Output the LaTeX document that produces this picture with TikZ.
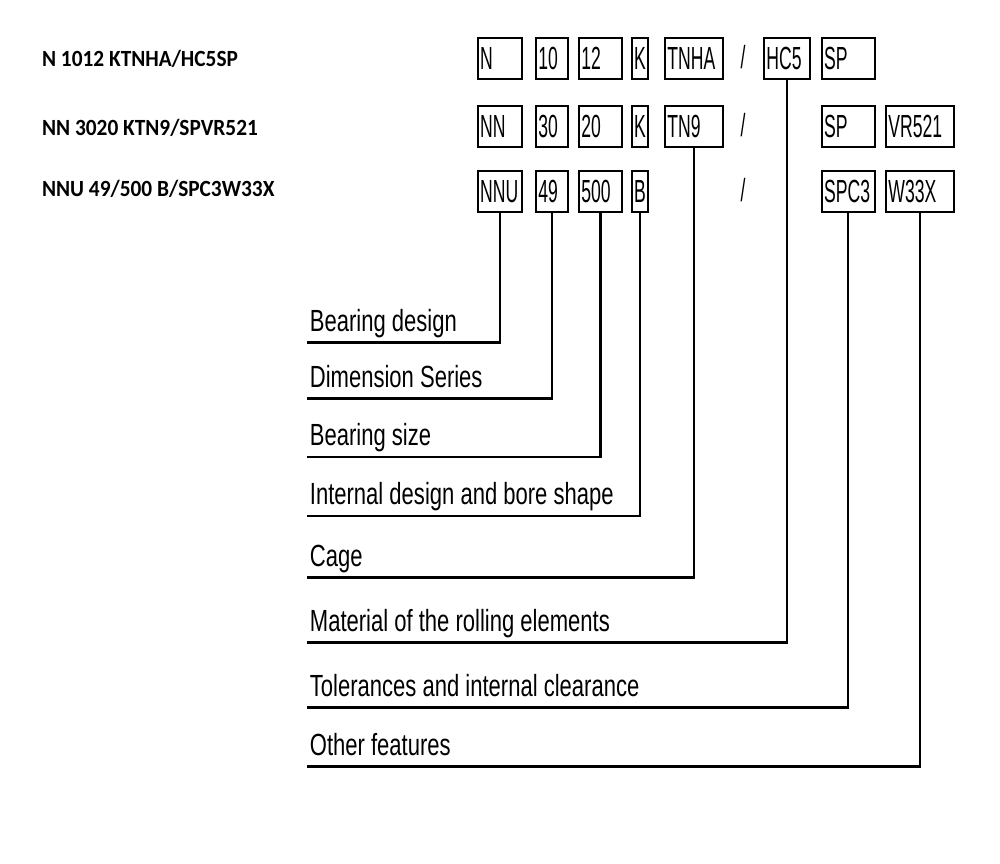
\documentclass[tikz,border=0pt]{standalone}
\usepackage{fontspec}
\setmainfont{Liberation Sans}
\newfontfamily\codefont[FakeStretch=0.92]{Carlito}
\newfontfamily\cellfont[FakeStretch=0.55]{Liberation Sans}
\newfontfamily\partfont[FakeStretch=0.72]{Liberation Sans}

\begin{document}
\begin{tikzpicture}[
  x=0.5pt, y=-0.5pt,
  code/.style={anchor=base west, inner sep=0pt,
               font=\codefont\bfseries\fontsize{11.6}{14}\selectfont},
  cell/.style={draw, line width=1pt, anchor=north west, minimum height=20.5pt,
               inner xsep=1.2pt, inner ysep=0pt, align=left,
               font=\cellfont\fontsize{16}{16}\selectfont},
  slashmark/.style={inner sep=0pt, font=\cellfont\fontsize{16}{16}\selectfont},
  part/.style={anchor=south west, inner xsep=1.5pt, inner ysep=5.5pt,
               text depth=0pt, font=\partfont\fontsize{15.3}{18}\selectfont},
  link/.style={line width=1.1pt},
]
  \useasboundingbox (0,0) rectangle (1000,863);

  % designations
  \node[code] (c1) at (41.7,66.7) {N 1012 KTNHA/HC5SP};
  \node[code] (c2) at (41.7,135) {NN 3020 KTN9/SPVR521};
  \node[code] (c3) at (41.7,196.7) {NNU 49/500 B/SPC3W33X};

  % first row
  \node[cell, text width=19.6pt] (n1) at (476.7,36.7) {N};
  \node[cell, text width=13.6pt] (d1) at (535,36.7) {10};
  \node[cell, text width=19.1pt] (s1) at (578,36.7) {12};
  \node[cell, text width=5.6pt] (k1) at (630.7,36.7) {K};
  \node[cell, text width=26.6pt] (t1) at (664,36.7) {TNHA};
  \node[slashmark] (sl1) at (743,57) {/};
  \node[cell, text width=20.6pt] (hc1) at (763,36.7) {HC5};
  \node[cell, text width=24.1pt] (p1) at (820.7,36.7) {SP};

  % second row
  \node[cell, text width=19.6pt] (n2) at (476.7,105) {NN};
  \node[cell, text width=13.6pt] (d2) at (535,105) {30};
  \node[cell, text width=19.1pt] (s2) at (578,105) {20};
  \node[cell, text width=5.6pt] (k2) at (630.7,105) {K};
  \node[cell, text width=26.6pt] (t2) at (664,105) {TN9};
  \node[slashmark] (sl2) at (743,125) {/};
  \node[cell, text width=24.1pt] (p2) at (820.7,105) {SP};
  \node[cell, text width=31.6pt] (v2) at (885,105) {VR521};

  % third row
  \node[cell, text width=19.6pt] (n3) at (476.7,170) {NNU};
  \node[cell, text width=13.6pt] (d3) at (535,170) {49};
  \node[cell, text width=19.1pt] (s3) at (578,170) {500};
  \node[cell, text width=5.6pt] (k3) at (630.7,170) {B};
  \node[slashmark] (sl3) at (743,190) {/};
  \node[cell, text width=24.1pt] (p3) at (820.7,170) {SPC3};
  \node[cell, text width=31.6pt] (v3) at (885,170) {W33X};

  % meanings
  \node[part] (design) at (306.5,342.5) {Bearing design};
  \node[part] (series) at (306.5,398.5) {Dimension Series};
  \node[part] (size) at (306.5,457) {Bearing size};
  \node[part] (bore) at (306.5,516) {Internal design and bore shape};
  \node[part] (cage) at (306.5,577.5) {Cage};
  \node[part] (material) at (306.5,642.5) {Material of the rolling elements};
  \node[part] (tolerance) at (306.5,707.5) {Tolerances and internal clearance};
  \node[part] (other) at (306.5,766.5) {Other features};

  \draw[link] (n3.south) |- (design.south west);
  \draw[link] (d3.south) |- (series.south west);
  \draw[link] (s3.south) |- (size.south west);
  \draw[link] (k3.south) |- (bore.south west);
  \draw[link] (t2.south) |- (cage.south west);
  \draw[link] (hc1.south) |- (material.south west);
  \draw[link] (p3.south) |- (tolerance.south west);
  \draw[link] (v3.south) |- (other.south west);
\end{tikzpicture}
\end{document}
